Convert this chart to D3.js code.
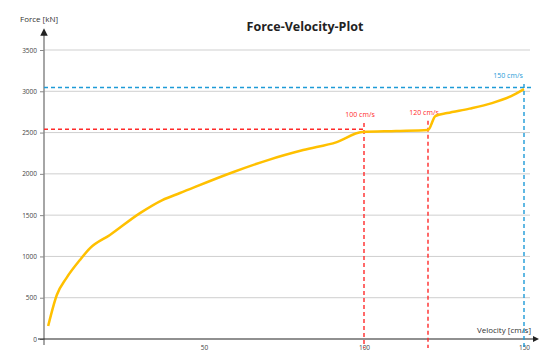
<!DOCTYPE html>
<html>
<head>
<meta charset="utf-8">
<script src="https://cdn.jsdelivr.net/npm/d3@7"></script>
<style>
  body { margin: 0; background: #fff; }
  text { font-family: "Open Sans", "DejaVu Sans", sans-serif; }
</style>
</head>
<body>
<svg id="chart"></svg>
<script>
// 数据
const velocity = [1.3, 4, 7, 11.2, 14.4, 20.6, 30, 37, 42.5, 59, 70, 81, 91.5, 99.4, 110, 120, 122.3, 126, 133, 140, 146, 150];
const force = [157, 533, 738, 956, 1100, 1260, 1525, 1683, 1768, 2020, 2167, 2288, 2385, 2506, 2518, 2530, 2700, 2736, 2790, 2857, 2942, 3027];
const yTicks = [0, 500, 1000, 1500, 2000, 2500, 3000, 3500];
const xTicks = [50, 100, 150];
// 标记线: 速度, 力, 标签, 颜色
const markers = [
  {v: 100, f: 2540, label: "100 cm/s", color: "#ff2a2a", labelF: 2690, dx: -4, hline: false},
  {v: 120, f: 2540, label: "120 cm/s", color: "#ff2a2a", labelF: 2715, dx: -4, hline: false},
  {v: 150, f: 3045, label: "150 cm/s", color: "#1e9bd7", labelF: 3160, dx: 0, hline: true}
];
const redLevel = 2540;

const width = 540, height = 351;
const x = d3.scaleLinear([0, 150], [44, 524]);
const y = d3.scaleLinear([0, 3500], [339, 50]);

const svg = d3.select("#chart")
  .attr("width", width)
  .attr("height", height)
  .attr("viewBox", [0, 0, width, height]);

svg.append("defs").append("marker")
  .attr("id", "arrow")
  .attr("viewBox", "0 0 10 10")
  .attr("refX", 5).attr("refY", 5)
  .attr("markerWidth", 5).attr("markerHeight", 5)
  .attr("orient", "auto")
  .append("path").attr("d", "M0,0L10,5L0,10Z").attr("fill", "#222");

// 标题
svg.append("text")
  .attr("x", 305).attr("y", 31)
  .attr("text-anchor", "middle")
  .attr("font-size", 12.5).attr("font-weight", "bold")
  .attr("fill", "#222")
  .text("Force-Velocity-Plot");

// 网格线
svg.append("g")
  .selectAll("line")
  .data(yTicks.filter(d => d > 0))
  .join("line")
    .attr("x1", 44).attr("x2", 530)
    .attr("y1", d => y(d)).attr("y2", d => y(d))
    .attr("stroke", "#cfcfcf").attr("stroke-width", 1);

// y轴
svg.append("g")
  .attr("transform", "translate(44,0)")
  .call(d3.axisLeft(y).tickValues(yTicks).tickFormat(d3.format("d")).tickSize(4).tickPadding(3))
  .call(g => g.select(".domain").remove())
  .call(g => g.selectAll(".tick line").attr("stroke", "#888"))
  .call(g => g.selectAll(".tick text").attr("font-size", 6.5).attr("fill", "#444"));
svg.append("line")
  .attr("x1", 44).attr("x2", 44).attr("y1", 345).attr("y2", 32)
  .attr("stroke", "#888").attr("stroke-width", 1.5)
  .attr("marker-end", "url(#arrow)");
svg.append("text")
  .attr("x", 20).attr("y", 22)
  .attr("font-size", 8).attr("fill", "#333")
  .text("Force [kN]");

// x轴
svg.append("g")
  .attr("transform", "translate(0,339)")
  .call(d3.axisBottom(x).tickValues(xTicks).tickSize(0).tickPadding(6))
  .call(g => g.select(".domain").remove())
  .call(g => g.selectAll(".tick text").attr("font-size", 6.5).attr("fill", "#444"));
svg.append("line")
  .attr("x1", 38).attr("x2", 536).attr("y1", 339).attr("y2", 339)
  .attr("stroke", "#222").attr("stroke-width", 1.2)
  .attr("marker-end", "url(#arrow)");
svg.append("text")
  .attr("x", 531).attr("y", 333)
  .attr("text-anchor", "end")
  .attr("font-size", 8).attr("fill", "#333")
  .text("Velocity [cm/s]");

// 虚线
const dash = "4,3";
svg.append("line")
  .attr("x1", 44).attr("x2", x(100))
  .attr("y1", y(redLevel)).attr("y2", y(redLevel))
  .attr("stroke", "#ff2a2a").attr("stroke-width", 1.4).attr("stroke-dasharray", dash);
markers.forEach(m => {
  svg.append("line")
    .attr("x1", x(m.v)).attr("x2", x(m.v))
    .attr("y1", y(m.labelF) + 6).attr("y2", 348)
    .attr("stroke", m.color).attr("stroke-width", 1.4).attr("stroke-dasharray", dash);
  if (m.hline) {
    svg.append("line")
      .attr("x1", 44).attr("x2", 533)
      .attr("y1", y(m.f)).attr("y2", y(m.f))
      .attr("stroke", m.color).attr("stroke-width", 1.5).attr("stroke-dasharray", dash);
  }
  svg.append("text")
    .attr("x", Math.min(x(m.v) + m.dx, 508)).attr("y", y(m.labelF))
    .attr("text-anchor", "middle")
    .attr("font-size", 7).attr("fill", m.color)
    .text(m.label);
});

// 曲线
const line = d3.line()
  .x((d, i) => x(velocity[i]))
  .y(d => y(d))
  .curve(d3.curveMonotoneX);
svg.append("path")
  .datum(force)
  .attr("fill", "none")
  .attr("stroke", "#ffc000")
  .attr("stroke-width", 2.5)
  .attr("stroke-linejoin", "round")
  .attr("d", line);
</script>
</body>
</html>
